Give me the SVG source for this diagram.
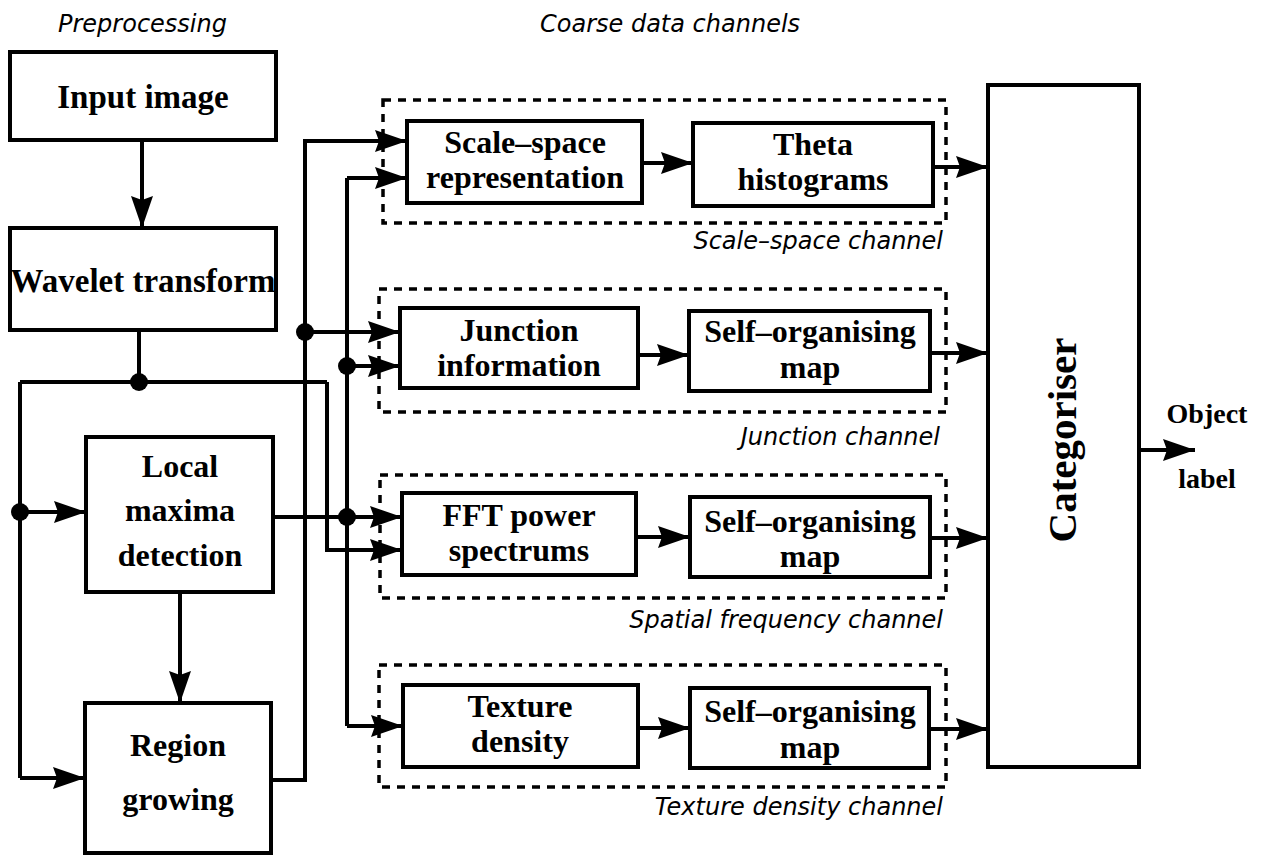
<svg xmlns="http://www.w3.org/2000/svg" width="1266" height="855" viewBox="0 0 1266 855">
<style>
.box{fill:#fff;stroke:#000;stroke-width:4}
.chan{fill:none;stroke:#000;stroke-width:3.5;stroke-dasharray:8 7}
.t{font-family:"Liberation Serif","Times New Roman",serif;font-weight:bold;font-size:32px;text-anchor:middle;fill:#000}
.it{font-family:"DejaVu Sans",sans-serif;font-style:oblique;font-size:24px;fill:#000}
.r{text-anchor:end}
.ln{fill:none;stroke:#000;stroke-width:4}
.ar{fill:none;stroke:#000;stroke-width:4;marker-end:url(#ah)}
.dot{fill:#000}
</style>
<defs>
<marker id="ah" markerUnits="userSpaceOnUse" markerWidth="32" markerHeight="22" refX="32" refY="11" orient="auto">
<path d="M0,0 L32,11 L0,22 L4,11 z" fill="#000"/>
</marker>
</defs>
<rect width="1266" height="855" fill="#fff"/>

<text class="it" x="58" y="32">Preprocessing</text>
<text class="it" x="540" y="32">Coarse data channels</text>

<g id="channel-scale">
<rect class="chan" x="383" y="100" width="563" height="123"/>
<text class="it r" x="943" y="249">Scale–space channel</text>
</g>
<g id="channel-junction">
<rect class="chan" x="379" y="289" width="567" height="123"/>
<text class="it r" x="940" y="445">Junction channel</text>
</g>
<g id="channel-spatial">
<rect class="chan" x="380" y="475" width="566" height="123"/>
<text class="it r" x="943" y="628">Spatial frequency channel</text>
</g>
<g id="channel-texture">
<rect class="chan" x="379" y="665" width="567" height="122"/>
<text class="it r" x="943" y="815">Texture density channel</text>
</g>

<g id="connectors">
<path class="ar" d="M142,140 V228"/>
<path class="ln" d="M139,330 V382"/>
<path class="ln" d="M20,382 H327"/>
<path class="ar" d="M327,382 V550 H402"/>
<path class="ln" d="M20,382 V778"/>
<path class="ar" d="M20,512 H86"/>
<path class="ar" d="M20,778 H85"/>
<path class="ar" d="M180,592 V703"/>
<path class="ar" d="M273,517 H402"/>
<path class="ln" d="M347,178 V726"/>
<path class="ar" d="M347,178 H407"/>
<path class="ar" d="M347,366 H400"/>
<path class="ar" d="M347,726 H403"/>
<path class="ar" d="M270,780 H305 V141 H407"/>
<path class="ar" d="M305,332 H400"/>
<path class="ar" d="M642,163 H693"/>
<path class="ar" d="M933,167 H988"/>
<path class="ar" d="M638,355 H689"/>
<path class="ar" d="M930,353 H988"/>
<path class="ar" d="M636,537 H690"/>
<path class="ar" d="M930,538 H988"/>
<path class="ar" d="M638,728 H690"/>
<path class="ar" d="M929,729 H988"/>
<path class="ar" d="M1139,450 H1195"/>
<circle class="dot" cx="139" cy="382" r="9"/>
<circle class="dot" cx="20" cy="512" r="9"/>
<circle class="dot" cx="347" cy="517" r="9"/>
<circle class="dot" cx="347" cy="366" r="9"/>
<circle class="dot" cx="305" cy="332" r="9"/>
</g>

<g id="input-image">
<rect class="box" x="10" y="52" width="266" height="88"/>
<text class="t" x="143" y="108" style="font-size:33px">Input image</text>
</g>
<g id="wavelet-transform">
<rect class="box" x="10" y="228" width="266" height="102"/>
<text class="t" x="143" y="292" style="font-size:33px">Wavelet transform</text>
</g>
<g id="local-maxima">
<rect class="box" x="86" y="437" width="187" height="155"/>
<text class="t" x="180" y="477">Local</text>
<text class="t" x="180" y="521">maxima</text>
<text class="t" x="180" y="566">detection</text>
</g>
<g id="region-growing">
<rect class="box" x="85" y="703" width="186" height="150"/>
<text class="t" x="178" y="756">Region</text>
<text class="t" x="178" y="810">growing</text>
</g>

<g id="scale-space">
<rect class="box" x="407" y="121" width="235" height="82"/>
<text class="t" x="525" y="153">Scale–space</text>
<text class="t" x="525" y="188">representation</text>
</g>
<g id="theta">
<rect class="box" x="693" y="123" width="240" height="83"/>
<text class="t" x="813" y="155">Theta</text>
<text class="t" x="813" y="190">histograms</text>
</g>
<g id="junction">
<rect class="box" x="400" y="308" width="238" height="80"/>
<text class="t" x="519" y="341">Junction</text>
<text class="t" x="519" y="376">information</text>
</g>
<g id="som-junction">
<rect class="box" x="689" y="311" width="241" height="80"/>
<text class="t" x="810" y="342">Self–organising</text>
<text class="t" x="810" y="378">map</text>
</g>
<g id="fft">
<rect class="box" x="402" y="493" width="234" height="82"/>
<text class="t" x="519" y="526">FFT power</text>
<text class="t" x="519" y="561">spectrums</text>
</g>
<g id="som-fft">
<rect class="box" x="690" y="497" width="240" height="80"/>
<text class="t" x="810" y="532">Self–organising</text>
<text class="t" x="810" y="567">map</text>
</g>
<g id="texture">
<rect class="box" x="403" y="685" width="235" height="82"/>
<text class="t" x="520" y="717">Texture</text>
<text class="t" x="520" y="752">density</text>
</g>
<g id="som-texture">
<rect class="box" x="690" y="688" width="239" height="80"/>
<text class="t" x="810" y="722">Self–organising</text>
<text class="t" x="810" y="758">map</text>
</g>

<g id="categoriser">
<rect class="box" x="988" y="85" width="151" height="682"/>
<text class="t" transform="translate(1076,440) rotate(-90)" x="0" y="0" style="font-size:41px">Categoriser</text>
</g>
<g id="object-label">
<text class="t" x="1207" y="423" style="font-size:28px">Object</text>
<text class="t" x="1207" y="488" style="font-size:28px">label</text>
</g>
</svg>
